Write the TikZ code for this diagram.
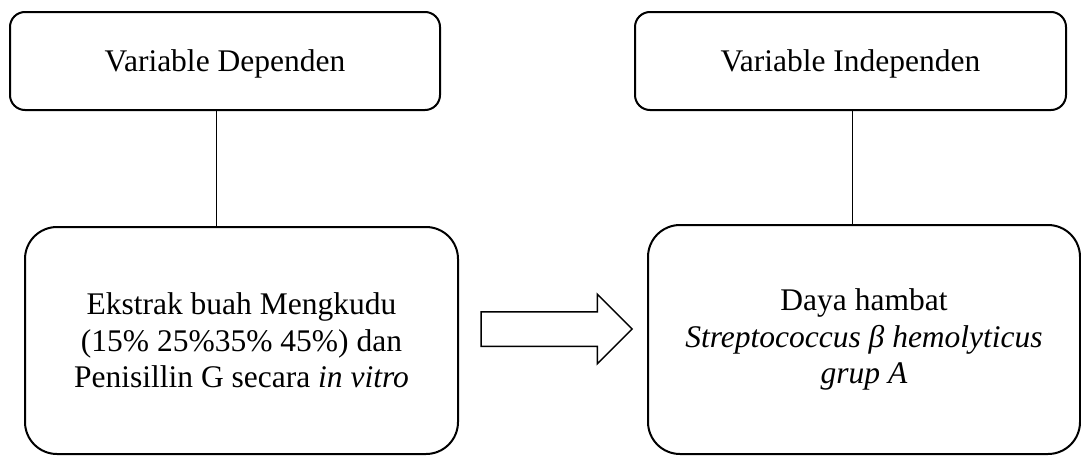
\documentclass[tikz,border=0pt]{standalone}
\usepackage{fontspec}
\setmainfont{Liberation Serif}
\usetikzlibrary{shapes.arrows}

\begin{document}
\begin{tikzpicture}[x=1pt, y=-1pt,
    font=\fontsize{31.5}{36.5}\selectfont,
    head/.style = {draw, line width=2pt, rounded corners=15pt, minimum width=430pt, minimum height=98pt, inner sep=0pt, text depth=0pt},
    main/.style = {draw, line width=2pt, rounded corners=32pt, minimum height=228pt, inner sep=0pt, align=center}]
    \useasboundingbox (0,0) rectangle (1081,455);
    \node at (225,61)    [head] (1) {Variable Dependen};
    \node at (850.5,61)  [head,minimum width=431pt] (2) {Variable Independen};
    \node at (241.5,340.5) [main,minimum width=433pt,minimum height=227pt] (3)
        {Ekstrak buah Mengkudu\\(15\% 25\%35\% 45\%) dan\\Penisillin G secara \textit{in vitro}};
    \node at (864,339.5) [main,minimum width=432pt,minimum height=229pt] (4)
        {Daya hambat\\\textit{Streptococcus β hemolyticus}\\\textit{grup A}};
    \node at (548,329) [single arrow, draw, line width=1.5pt, minimum height=151pt,
        inner xsep=0pt, inner ysep=16.5pt, single arrow head extend=17.5pt] (5) {};
    \draw[line width=0.9pt] ([xshift=-9pt]1.south) -- ([xshift=-9pt]1.south |- 3.north);
    \draw[line width=0.9pt] ([xshift=1.5pt]2.south) -- ([xshift=1.5pt]2.south |- 4.north);
\end{tikzpicture}
\end{document}
